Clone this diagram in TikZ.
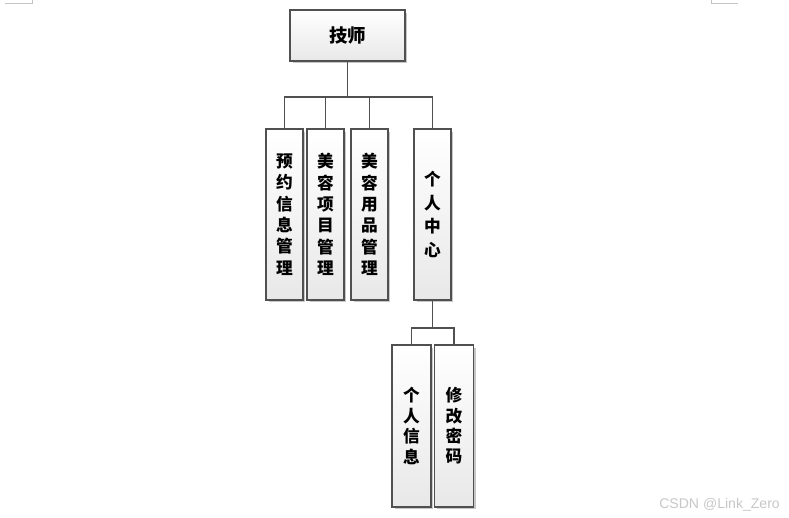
\documentclass[tikz,border=0pt]{standalone}
\usepackage{fontspec}
\setmainfont{Liberation Sans}
\newfontfamily\cjk{Noto Sans CJK SC}
\usetikzlibrary{shadows}
\definecolor{boxline}{HTML}{505050}
\definecolor{boxtop}{HTML}{FFFFFF}
\definecolor{boxbot}{HTML}{E8E8E8}
\definecolor{markgray}{HTML}{C4C4C4}

\begin{document}
\begin{tikzpicture}[x=0.02cm, y=-0.02cm,
    box/.style={draw=boxline, top color=boxtop, bottom color=boxbot,
      line width=0.6pt, inner sep=0pt, align=center,
      font=\cjk\bfseries\fontsize{9.5}{12.2}\selectfont,
      drop shadow={shadow xshift=0.05cm, shadow yshift=-0.05cm,
        fill=black!22, opacity=1}},
    colbox/.style={box, minimum width=0.74cm, minimum height=3.42cm},
    subbox/.style={box, minimum width=0.78cm, minimum height=3.24cm,
      font=\cjk\bfseries\fontsize{9.5}{11.6}\selectfont},
    link/.style={draw=boxline, line width=0.6pt},
  ]
  \useasboundingbox (0,0) rectangle (789,518);

  % page corner marks
  \draw[markgray, line width=0.4pt] (5,3) -- (32,3) -- (32,0);
  \draw[markgray, line width=0.4pt] (711,0) -- (711,3) -- (738,3);

  \node[box, minimum width=2.3cm, minimum height=1.02cm,
    font=\cjk\bfseries\fontsize{10.5}{12}\selectfont] (top) at (347.5,35.5) {技师};

  \node[colbox] (yy) at (284.5,214.5) {预\\约\\信\\息\\管\\理};
  \node[colbox] (xm) at (325.5,214.5) {美\\容\\项\\目\\管\\理};
  \node[colbox] (yp) at (369.5,214.5) {美\\容\\用\\品\\管\\理};
  \node[colbox, font=\cjk\bfseries\fontsize{9.5}{13.6}\selectfont]
    (zx) at (432.5,214.5) {个\\人\\中\\心};

  \node[subbox] (gr) at (411.5,426) {个\\人\\信\\息};
  \node[subbox] (mm) at (454,426) {修\\改\\密\\码};

  \coordinate (bus1) at (0,97);
  \coordinate (bus2) at (0,328);

  \draw[link] (top.south) -- (top.south |- bus1);
  \draw[link] (yy.north) |- (zx.north |- bus1) -- (zx.north);
  \draw[link] (xm.north) -- (xm.north |- bus1);
  \draw[link] (yp.north) -- (yp.north |- bus1);

  \draw[link] (zx.south) -- (zx.south |- bus2);
  \draw[link] (gr.north) |- (mm.north |- bus2) -- (mm.north);

  \node[text=black!22, font=\fontsize{8}{9}\selectfont, anchor=east]
    (wm) at (786,505) {CSDN @Link\_Zero};
\end{tikzpicture}
\end{document}
